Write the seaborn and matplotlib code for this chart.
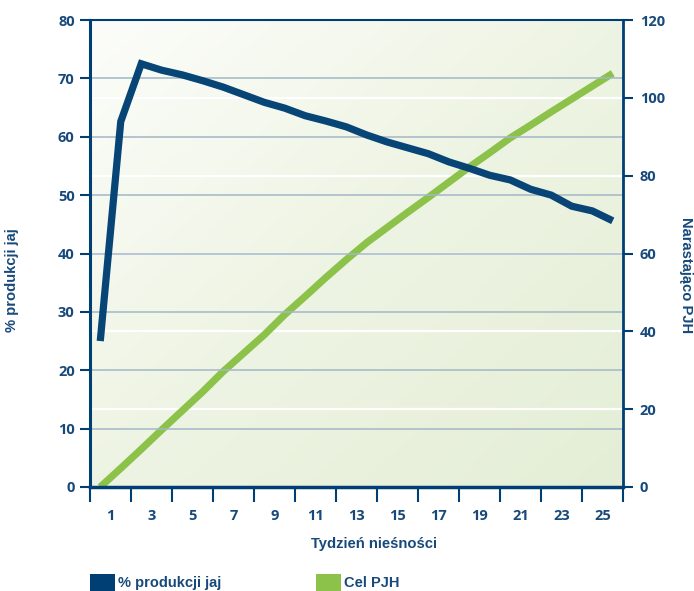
import numpy as np
import matplotlib
matplotlib.use("Agg")
import matplotlib.pyplot as plt
import seaborn as sns
from matplotlib.patches import Patch
from matplotlib.colors import LinearSegmentedColormap

# ---- data ----
weeks = list(range(1, 27))
egg_production = [25.0, 62.6, 72.5, 71.4, 70.6, 69.6, 68.5, 67.2, 65.9, 64.9,
                  63.6, 62.7, 61.7, 60.3, 59.1, 58.1, 57.1, 55.7, 54.6, 53.4,
                  52.6, 51.0, 50.0, 48.1, 47.3, 45.6]
target_pjh = [0.0, 4.8, 9.7, 14.7, 19.6, 24.5, 29.7, 34.4, 39.1, 44.3,
              49.0, 53.8, 58.4, 62.8, 66.7, 70.6, 74.4, 78.3, 82.2, 85.9,
              89.7, 93.0, 96.4, 99.7, 103.0, 106.3]
week_labels = [str(w) for w in range(1, 26, 2)]
left_ticks = [0, 10, 20, 30, 40, 50, 60, 70, 80]
right_ticks = [0, 20, 40, 60, 80, 100, 120]
series_names = ["% produkcji jaj", "Cel PJH"]
x_title = "Tydzień nieśności"
y_left_title = "% produkcji jaj"
y_right_title = "Narastająco PJH"

# ---- style ----
sns.set_style("white")
plt.rcParams["font.family"] = ["Open Sans", "DejaVu Sans"]
plt.rcParams["font.weight"] = "bold"
TITLE_FONT = ["Liberation Sans", "DejaVu Sans"]

BLUE = "#003f73"
GREEN = "#8cc24a"
TXT = "#17497b"
GRID = "#a3b7c6"

fig = plt.figure(figsize=(6.94, 5.91), dpi=100)
L, R, B, T = 90 / 694, 623 / 694, (591 - 487) / 591, (591 - 20) / 591
ax = fig.add_axes([L, B, R - L, T - B])
ax2 = ax.twinx()
ax.set_zorder(2)
ax2.set_zorder(1)
ax.patch.set_visible(False)
ax2.patch.set_visible(False)

# gradient background (white top-left -> light green bottom-right)
n = 200
gx, gy = np.meshgrid(np.linspace(0, 1, n), np.linspace(0, 1, n))
grad = (gx + gy) / 2.0
cmap = LinearSegmentedColormap.from_list("bg", ["#fcfdfa", "#eef4e3", "#e4eed6"])
ax2.imshow(grad, cmap=cmap, extent=[0, 1, 0, 1], transform=ax2.transAxes,
           aspect="auto", zorder=0, origin="upper", interpolation="bilinear")

# white grid lines of the right axis
for v in right_ticks[1:-1]:
    ax2.axhline(v, color="white", lw=1.6, zorder=1)

# green target line on the right axis
sns.lineplot(x=weeks, y=target_pjh, ax=ax2, color=GREEN, lw=5.2,
             solid_capstyle="butt", solid_joinstyle="round", zorder=3)

# dark grid lines of the left axis
for v in left_ticks[1:-1]:
    ax.axhline(v, color=GRID, lw=1.3, alpha=0.85, zorder=1)

# blue production line on the left axis
sns.lineplot(x=weeks, y=egg_production, ax=ax, color=BLUE, lw=5.2, alpha=0.97,
             solid_capstyle="butt", solid_joinstyle="miter", zorder=3)

# limits
ax.set_xlim(0.5, 26.5)
ax.set_ylim(0, 80)
ax2.set_ylim(0, 120)
ax2.set_xlim(0.5, 26.5)

# x ticks: marks at category boundaries, labels in between
ax.set_xticks(np.arange(0.5, 27, 2))
ax.set_xticklabels([])
ax.set_xticks(np.arange(1.5, 26, 2), minor=True)
ax.set_xticklabels(week_labels, minor=True)
ax.tick_params(axis="x", which="major", direction="out", length=11, width=1.5,
               color=BLUE, bottom=True)
ax.tick_params(axis="x", which="minor", length=0, pad=16, labelsize=10.5,
               labelcolor=TXT)

ax.set_yticks(left_ticks)
ax.set_yticklabels([str(v) for v in left_ticks])
ax.tick_params(axis="y", direction="out", length=7, width=1.5, color=BLUE,
               labelsize=10.5, labelcolor=TXT, pad=4, left=True)
ax2.set_yticks(right_ticks)
ax2.set_yticklabels([str(v) for v in right_ticks])
ax2.tick_params(axis="y", direction="out", length=7, width=1.5, color=BLUE,
                labelsize=10.5, labelcolor=TXT, pad=5, right=True)
for lab in ax.get_xticklabels(minor=True) + ax.get_yticklabels() + ax2.get_yticklabels():
    lab.set_fontweight("bold")

# spines
for s in ax2.spines.values():
    s.set_visible(False)
for name, s in ax.spines.items():
    s.set_visible(True)
    s.set_color(BLUE)
ax.spines["left"].set_linewidth(2.2)
ax.spines["right"].set_linewidth(2.0)
ax.spines["bottom"].set_linewidth(2.5)
ax.spines["top"].set_linewidth(1.5)

# axis titles
ax.set_xlabel(x_title, fontsize=10.6, fontweight="bold", color=TXT, family=TITLE_FONT)
ax.xaxis.set_label_coords((374 - 90) / 533, -(537 - 487) / 467)
ax.set_ylabel(y_left_title, fontsize=10.6, fontweight="bold", color=TXT, family=TITLE_FONT)
ax.yaxis.set_label_coords(-(90 - 19) / 533, (487 - 280) / 467)
ax2.set_ylabel(y_right_title, fontsize=10.6, fontweight="bold", color=TXT,
               rotation=-90, va="center", family=TITLE_FONT)
ax2.yaxis.set_label_coords(1 + (686 - 623) / 533, (487 - 275) / 467)

# legend
handles = [Patch(facecolor=BLUE, edgecolor="none"),
           Patch(facecolor=GREEN, edgecolor="none")]
leg = fig.legend(handles, series_names, loc="lower left",
                 bbox_to_anchor=(90 / 694, 0.0), ncol=2, frameon=False,
                 handlelength=1.71, handleheight=1.44, handletextpad=0.2,
                 columnspacing=6.5, borderpad=0.0, borderaxespad=0.0,
                 prop={"size": 10.5, "weight": "bold", "family": TITLE_FONT})
for t in leg.get_texts():
    t.set_color(TXT)

fig.savefig("out.png", dpi=100)
